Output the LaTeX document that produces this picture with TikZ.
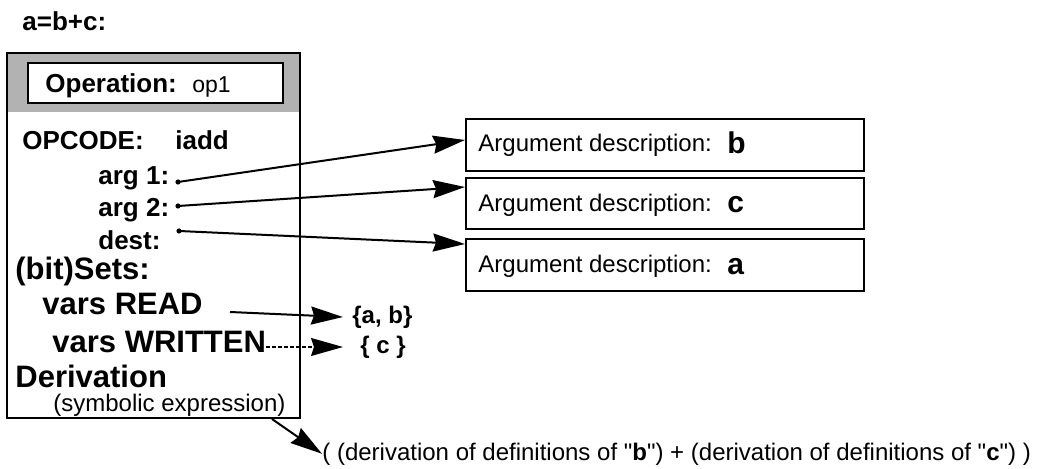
\documentclass[tikz,border=0pt]{standalone}
\usepackage{fontspec}
\setmainfont{Liberation Sans}
\usetikzlibrary{arrows.meta}

\begin{document}
\begin{tikzpicture}[x=0.5pt, y=-0.5pt,
  lbl/.style={anchor=base west, inner sep=0pt,
              font=\fontsize{13}{15}\selectfont\bfseries},
  biglbl/.style={anchor=base west, inner sep=0pt,
                 font=\fontsize{15.5}{18}\selectfont\bfseries},
  txt/.style={anchor=base west, inner sep=0pt,
              font=\fontsize{12}{14}\selectfont},
  argname/.style={anchor=base west, inner sep=0pt,
                  font=\fontsize{15}{18}\selectfont\bfseries},
  setlbl/.style={anchor=west, inner ysep=0pt, inner xsep=#1,
                 font=\fontsize{12}{14}\selectfont\bfseries},
  argbox/.style={draw, line width=1pt, anchor=north west,
                 minimum width=199pt, minimum height=#1, inner sep=0pt},
  pin/.style={circle, fill, inner sep=0pt, minimum size=2.6pt},
  ptr/.style={line width=1pt, -{Stealth[length=16pt, width=9pt, inset=1.5pt]}}
]
  \useasboundingbox (0,0) rectangle (1042,469);

  \node[lbl] (title) at (22,31) {a=b+c:};

  % operation record
  \fill[gray!60] (6,52) rectangle (299,112);
  \node[draw, line width=1pt, anchor=north west, minimum width=146.5pt,
        minimum height=182.5pt, inner sep=0pt] (rec) at (6,52) {};
  \node[draw, fill=white, line width=1pt, anchor=north west,
        minimum width=127.5pt, minimum height=20pt, inner sep=0pt] (hdr) at (27,62) {};
  \node[lbl] (opname) at (45,93) {Operation:};
  \node[txt, font=\fontsize{11.5}{14}\selectfont] (opid) at (192,93) {op1};

  \node[lbl] (opcode) at (22,150) {OPCODE:};
  \node[lbl] (iadd)   at (175,150) {iadd};
  \node[lbl] (arg1)   at (98,185) {arg 1:};
  \node[lbl] (arg2)   at (98,217) {arg 2:};
  \node[lbl] (dest)   at (98,250) {dest:};
  \node[biglbl] (sets)  at (15,280) {(bit)Sets:};
  \node[biglbl] (vread) at (42,315) {vars READ};
  \node[biglbl] (vwrit) at (52,353) {vars WRITTEN};
  \node[biglbl] (deriv) at (15,387) {Derivation};
  \node[txt]    (symb)  at (53,411) {(symbolic expression)};

  \node[pin] (p1) at (178,182) {};
  \node[pin] (p2) at (178,206) {};
  \node[pin] (p3) at (179,231) {};

  % argument descriptions
  \node[argbox=26pt]   (descb) at (465,118) {};
  \node[argbox=25.5pt] (descc) at (465,177) {};
  \node[argbox=26pt]   (desca) at (465,238) {};
  \node[txt] (labb) at (478,152) {Argument description:};
  \node[txt] (labc) at (478,212) {Argument description:};
  \node[txt] (laba) at (478,273) {Argument description:};
  \node[argname] (nameb) at (727,154) {b};
  \node[argname] (namec) at (727,213) {c};
  \node[argname] (namea) at (727,275) {a};

  \coordinate (tb) at (465,140);
  \coordinate (tc) at (465,187);
  \coordinate (ta) at (465,244);
  \draw[ptr] (p1.center) -- (tb);
  \draw[ptr] (p2.center) -- (tc);
  \draw[ptr] (p3.center) -- (ta);

  % sets
  \node[setlbl=4.5pt] (rset) at (343,317) {\{a, b\}};
  \node[setlbl=8.5pt] (wset) at (343,347) {\{ c \}};
  \coordinate (rs) at (230,312);
  \draw[ptr] (rs) -- (rset.west);
  \draw[line width=0.6pt, dash pattern=on 2pt off 1pt,
        -{Stealth[length=16pt, width=9pt, inset=1.5pt]}]
        ([yshift=3pt]vwrit.base east) -- (wset.west);

  % derivation
  \node[txt] (dtext) at (322,460)
        {( (derivation of definitions of \textquotedbl\textbf{b}\textquotedbl) + (derivation of definitions of \textquotedbl\textbf{c}\textquotedbl) )};
  \draw[ptr] ([xshift=-14.5pt]rec.south east) -- (dtext.west);
\end{tikzpicture}
\end{document}
